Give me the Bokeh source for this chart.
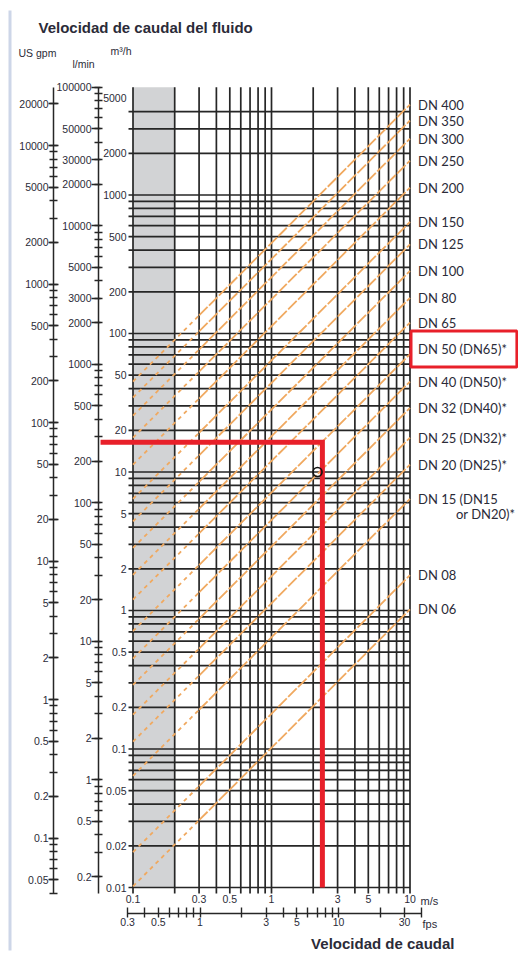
from bokeh.plotting import figure
from bokeh.models import (Range1d, LogAxis, LogScale, FixedTicker, Label,
                          BoxAnnotation)
from bokeh.embed import file_html
from bokeh.resources import INLINE

# ---------------- data ----------------
# axis tick labels
velocity_ticks_ms = [0.1, 0.3, 0.5, 1, 3, 5, 10]
velocity_ticks_fps = [0.3, 0.5, 1, 3, 5, 10, 30]
velocity_minor_fps = [0.4, 0.6, 0.7, 0.8, 0.9, 2, 4, 6, 7, 8, 9, 20, 40]
flow_ticks_m3h = [0.01, 0.02, 0.05, 0.1, 0.2, 0.5, 1, 2, 5, 10, 20, 50,
                  100, 200, 500, 1000, 2000, 5000]
flow_ticks_lmin = [0.2, 0.5, 1, 2, 5, 10, 20, 50, 100, 200, 500, 1000, 2000,
                   3000, 5000, 10000, 20000, 30000, 50000, 100000]
flow_ticks_gpm = [0.05, 0.1, 0.2, 0.5, 1, 2, 5, 10, 20, 50, 100, 200, 500,
                  1000, 2000, 5000, 10000, 20000]

# chart grid (m/s and m3/h)
grid_velocity = [0.1, 0.2, 0.3, 0.4, 0.5, 0.6, 0.7, 0.8, 0.9,
                 1, 2, 3, 4, 5, 6, 7, 8, 9, 10]
grid_flow = [m * 10.0 ** e for e in range(-2, 3) for m in range(1, 10)] + [1000, 2000, 3000, 4000]
grid_flow_top = 6000.0                  # top of chart (= 100000 l/min)
low_velocity_zone = [0.1, 0.2]          # grey band (m/s)

# nominal diameters: flow (m3/h) at 0.1, 0.3 and 10 m/s
dn_names = ["DN 400", "DN 350", "DN 300", "DN 250", "DN 200", "DN 150", "DN 125",
            "DN 100", "DN 80", "DN 65", "DN 50 (DN65)*", "DN 40 (DN50)*",
            "DN 32 (DN40)*", "DN 25 (DN32)*", "DN 20 (DN25)*", "DN 15 (DN15",
            "DN 08", "DN 06"]
dn_flow_end = [4500, 3450, 2550, 1770, 1130, 640, 440, 283, 181, 120, 71, 45,
               29, 17.7, 11.3, 6.4, 1.8, 1.02]
dn_flow_mid = [135, 103.5, 76.5, 53.1, 33.9, 19.2, 13.2, 8.49, 5.43, 3.6, 2.13,
               1.35, 0.87, 0.531, 0.339, 0.192, 0.054, 0.0306]
dn_flow_start = [45, 34.5, 25.5, 17.7, 11.3, 6.4, 4.4, 2.83, 1.81, 1.2, 0.71, 0.45,
                 0.29, 0.177, 0.113, 0.064, 0.018, 0.0102]
dn_velocity_start = 0.1
dn_velocity_mid = 0.3                   # dashed below, solid above
dn_velocity_end = 10
dn15_second_line = "or DN20)*"
highlight_dn = "DN 50 (DN65)*"

# red reading example
reading_flow = [16.4]
reading_velocity = [2.33]
reading_from_velocity = 0.0583
marker_velocity = [2.15]
marker_flow = [10.0]

# unit conversions (axes)
LMIN_PER_M3H = 1000.0 / 60.0
M3H_PER_GPM = 0.2271247
FPS_PER_MS = 3.28084

# ---------------- layout / styles ----------------
X_LO, X_HI = 0.011048, 60.73            # canvas extent in m/s
Y_LO, Y_HI = 0.0031755, 25366.0         # canvas extent in m3/h
GRID_Q_LO = 0.009053                    # foot of the vertical grid lines
M3H_AXIS_AT = 0.0928
LMIN_AXIS_AT = 0.05635
GPM_AXIS_AT = 0.02667
FPS_AXIS_AT = 0.006492
TICK_FONT = "Liberation Sans"
TEXT = "#2b2b38"
GRID = "#262626"
ORANGE = "#f0a960"
RED = "#e8202a"

p = figure(width=518, height=956, x_axis_type="log", y_axis_type="log",
           x_range=Range1d(X_LO, X_HI), y_range=Range1d(Y_LO, Y_HI),
           x_axis_location=None, y_axis_location=None,
           output_backend="svg", toolbar_location=None,
           min_border_left=0, min_border_right=0, min_border_top=0,
           min_border_bottom=0)
p.outline_line_color = None
p.grid.visible = False
p.background_fill_color = "white"
p.border_fill_color = "white"

p.extra_x_ranges = {"fps": Range1d(X_LO * FPS_PER_MS, X_HI * FPS_PER_MS)}
p.extra_x_scales = {"fps": LogScale()}
p.extra_y_ranges = {"lmin": Range1d(Y_LO * LMIN_PER_M3H, Y_HI * LMIN_PER_M3H),
                    "gpm": Range1d(Y_LO / M3H_PER_GPM, Y_HI / M3H_PER_GPM)}
p.extra_y_scales = {"lmin": LogScale(), "gpm": LogScale()}


def style_labels(ax, size="10.5px"):
    ax.major_label_text_font = TICK_FONT
    ax.major_label_text_font_size = size
    ax.major_label_text_color = TEXT


def plain_axis(ax):
    ax.axis_line_color = None
    ax.major_tick_line_color = None
    ax.minor_tick_line_color = None
    ax.major_tick_out = 0
    ax.major_tick_in = 0
    ax.minor_tick_out = 0
    ax.minor_tick_in = 0


def ruled_axis(ax, out, tin, mout, min_):
    ax.axis_line_color = GRID
    ax.axis_line_width = 1.5
    ax.major_tick_line_color = GRID
    ax.minor_tick_line_color = GRID
    ax.major_tick_line_width = 1.4
    ax.minor_tick_line_width = 1.4
    ax.major_tick_out = out
    ax.major_tick_in = tin
    ax.minor_tick_out = mout
    ax.minor_tick_in = min_


def decade_minors(lo, hi):
    vals = [m * 10.0 ** e for e in range(-3, 6) for m in range(1, 10)]
    return [v for v in vals if lo <= v <= hi]


# m3/h labels next to the grid
ya = LogAxis(ticker=FixedTicker(ticks=flow_ticks_m3h, minor_ticks=[]),
             fixed_location=M3H_AXIS_AT)
ya.major_label_overrides = {v: f"{v:g}" for v in flow_ticks_m3h}
plain_axis(ya)
ya.major_label_standoff = 2
style_labels(ya)
p.add_layout(ya, "left")

# l/min scale
lmin_bounds = (GRID_Q_LO * LMIN_PER_M3H, grid_flow_top * LMIN_PER_M3H)
la = LogAxis(y_range_name="lmin", fixed_location=LMIN_AXIS_AT,
             ticker=FixedTicker(ticks=flow_ticks_lmin,
                                minor_ticks=decade_minors(*lmin_bounds)),
             bounds=lmin_bounds)
la.major_label_overrides = {v: f"{v:g}" for v in flow_ticks_lmin}
ruled_axis(la, 7, 2, 4, 4)
la.major_label_standoff = 0
style_labels(la)
p.add_layout(la, "left")

# US gpm scale
gpm_bounds = (GRID_Q_LO / M3H_PER_GPM, grid_flow_top / M3H_PER_GPM)
ga = LogAxis(y_range_name="gpm", fixed_location=GPM_AXIS_AT,
             ticker=FixedTicker(ticks=flow_ticks_gpm,
                                minor_ticks=decade_minors(*gpm_bounds)),
             bounds=gpm_bounds)
ga.major_label_overrides = {v: f"{v:g}" for v in flow_ticks_gpm}
ruled_axis(ga, 5, 5, 4, 4)
ga.major_label_standoff = 0
style_labels(ga)
p.add_layout(ga, "left")

# m/s labels
xa = LogAxis(ticker=FixedTicker(ticks=velocity_ticks_ms, minor_ticks=[]),
             fixed_location=GRID_Q_LO)
xa.major_label_overrides = {v: f"{v:g}" for v in velocity_ticks_ms}
plain_axis(xa)
xa.major_label_standoff = 2
style_labels(xa)
p.add_layout(xa, "below")

# fps scale
fa = LogAxis(x_range_name="fps", fixed_location=FPS_AXIS_AT, bounds=(0.3, 40),
             ticker=FixedTicker(ticks=velocity_ticks_fps, minor_ticks=velocity_minor_fps))
fa.major_label_overrides = {v: f"{v:g}" for v in velocity_ticks_fps}
ruled_axis(fa, 4, 6, 4, 6)
fa.major_label_standoff = 1
style_labels(fa)
p.add_layout(fa, "below")

# page margin bar
p.add_layout(BoxAnnotation(left=8, right=11, bottom=6, top=946,
                           left_units="screen", right_units="screen",
                           bottom_units="screen", top_units="screen",
                           fill_color="#cdd6e8", fill_alpha=1, line_color=None))

# grey low-velocity band
p.quad(left=[low_velocity_zone[0]], right=[low_velocity_zone[1]],
       bottom=[min(grid_flow)], top=[grid_flow_top], fill_color="#d2d3d5",
       line_color=None)

# grid lines
p.segment(x0=grid_velocity, x1=grid_velocity,
          y0=[GRID_Q_LO] * len(grid_velocity), y1=[grid_flow_top] * len(grid_velocity),
          line_color=GRID, line_width=1.7)
p.segment(x0=[M3H_AXIS_AT] * len(grid_flow), x1=[max(grid_velocity)] * len(grid_flow),
          y0=grid_flow, y1=grid_flow, line_color=GRID, line_width=1.7)

# DN lines: dashed below 0.3 m/s, finely broken above
n = len(dn_names)
p.segment(x0=[dn_velocity_start] * n, x1=[dn_velocity_mid] * n,
          y0=dn_flow_start, y1=dn_flow_mid,
          line_color=ORANGE, line_width=1.8, line_dash="4 4")
p.segment(x0=[dn_velocity_mid] * n, x1=[dn_velocity_end] * n,
          y0=dn_flow_mid, y1=dn_flow_end,
          line_color=ORANGE, line_width=1.8, line_dash="12 2")

# red reading
p.line(x=[reading_from_velocity, reading_velocity[0], reading_velocity[0]],
       y=[reading_flow[0], reading_flow[0], min(grid_flow)],
       line_color=RED, line_width=5, line_join="miter")
p.scatter(x=marker_velocity, y=marker_flow, marker="circle", size=9,
          fill_color=None, line_color="#111111", line_width=1.6)

# DN labels
for name, q in zip(dn_names, dn_flow_end):
    kw = dict(x=dn_velocity_end, y=q, text=name, x_offset=8,
              text_font="Lato", text_font_size="13px", text_color=TEXT,
              text_baseline="middle", text_align="left")
    if name == highlight_dn:
        kw.update(border_line_color=RED, border_line_width=3, y_offset=5,
                  x_offset=1, padding=dict(left=7, right=10, top=10, bottom=10))
    p.add_layout(Label(**kw))
p.add_layout(Label(x=dn_velocity_end, y=dn_flow_end[dn_names.index("DN 15 (DN15")],
                   text=dn15_second_line, x_offset=46, y_offset=-15,
                   text_font="Lato", text_font_size="13px", text_color=TEXT,
                   text_baseline="middle", text_align="left"))


# texts
def txt(text, x, y, xo, yo, size, bold=False, font=TICK_FONT, align="left"):
    p.add_layout(Label(x=x, y=y, x_offset=xo, y_offset=yo, text=text,
                       text_font=font, text_font_size=size,
                       text_font_style="bold" if bold else "normal",
                       text_color=TEXT, text_baseline="middle", text_align=align))


top_left = (dn_velocity_start, grid_flow_top)
bottom_right = (dn_velocity_end, GRID_Q_LO)
txt("Velocidad de caudal del fluido", *top_left, -94.5, 60, "15px", True, "Liberation Sans")
txt("US gpm", *top_left, -114.5, 34, "10.5px")
txt("l/min", *top_left, -60.5, 23, "10.5px")
txt("m³/h", *top_left, -22.5, 36, "10.5px")
txt("m/s", *bottom_right, 10.5, -8, "11px")
txt("fps", *bottom_right, 12.5, -31, "11px")
txt("Velocidad de caudal", *bottom_right, 44.5, -50, "15px", True, "Liberation Sans", "right")

open("out.html", "w").write(file_html(p, INLINE))
